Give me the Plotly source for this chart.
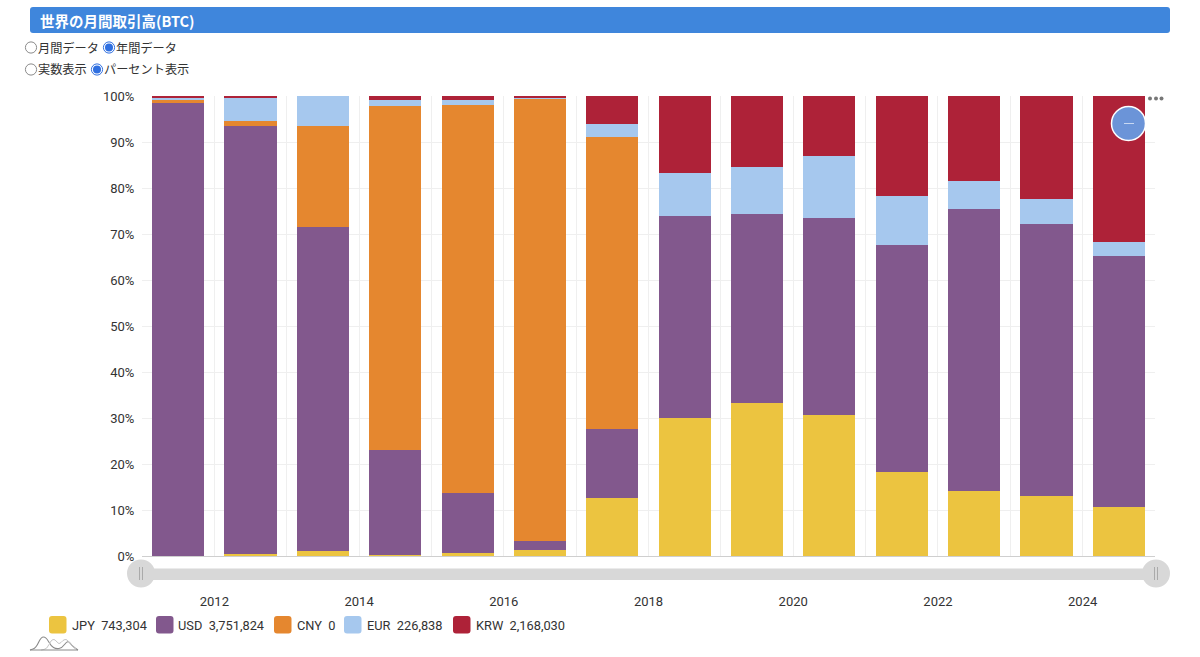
import plotly.graph_objects as go

years = list(range(2011, 2025))
tick_labels = {2012: "2012", 2014: "2014", 2016: "2016", 2018: "2018", 2020: "2020", 2022: "2022", 2024: "2024"}
series_names = ["JPY", "USD", "CNY", "EUR", "KRW"]
legend_values = ["743,304", "3,751,824", "0", "226,838", "2,168,030"]
series_colors = ["#ECC440", "#82588D", "#E5872F", "#A6C8EE", "#AE2238"]
jpy = [0.1, 0.5, 1.0, 0.2, 0.6, 1.4, 12.7, 30.0, 33.2, 30.7, 18.2, 14.2, 13.0, 10.7]
usd = [98.4, 93.0, 70.6, 22.9, 13.2, 1.8, 14.9, 44.0, 41.1, 42.8, 49.4, 61.3, 59.2, 54.5]
cny = [0.6, 1.0, 21.8, 74.7, 84.2, 96.2, 63.4, 0, 0, 0, 0, 0, 0, 0]
eur = [0.6, 5.2, 6.6, 1.4, 1.2, 0.2, 2.9, 9.2, 10.3, 13.5, 10.6, 6.0, 5.4, 3.1]
krw = [0.3, 0.3, 0, 0.8, 0.8, 0.4, 6.1, 16.8, 15.4, 13.0, 21.8, 18.5, 22.4, 31.7]
series_values = [jpy, usd, cny, eur, krw]
y_ticks = list(range(0, 101, 10))

W, H = 1200, 657
ML, MR, MT, MB = 142, 45, 96, 101
PW, PH = W - ML - MR, H - MT - MB
FONT = "Roboto, 'Noto Sans CJK JP', sans-serif"
CJK = "'Noto Sans CJK JP', Roboto, sans-serif"


def px(x):
    return (x - ML) / PW


def py(y):
    return 1 - (y - MT) / PH


def rrect(x0, y0, x1, y1, r, fill):
    p = (f"M {px(x0+r)} {py(y0)} L {px(x1-r)} {py(y0)} Q {px(x1)} {py(y0)} {px(x1)} {py(y0+r)} "
         f"L {px(x1)} {py(y1-r)} Q {px(x1)} {py(y1)} {px(x1-r)} {py(y1)} L {px(x0+r)} {py(y1)} "
         f"Q {px(x0)} {py(y1)} {px(x0)} {py(y1-r)} L {px(x0)} {py(y0+r)} Q {px(x0)} {py(y0)} {px(x0+r)} {py(y0)} Z")
    return dict(type="path", xref="paper", yref="paper", path=p, fillcolor=fill, line=dict(width=0), layer="above")


def circle(cx, cy, r, fill, line="rgba(0,0,0,0)", lw=0):
    return dict(type="circle", xref="paper", yref="paper", x0=px(cx - r), x1=px(cx + r), y0=py(cy + r), y1=py(cy - r),
                fillcolor=fill, line=dict(color=line, width=lw), layer="above")


def seg(x0, y0, x1, y1, color, lw=1):
    return dict(type="line", xref="paper", yref="paper", x0=px(x0), x1=px(x1), y0=py(y0), y1=py(y1),
                line=dict(color=color, width=lw), layer="above")


def curve(points, color, lw=1.2):
    p = f"M {px(points[0][0])} {py(points[0][1])}"
    for (a, b), (c, d) in zip(points[:-1], points[1:]):
        p += f" Q {px(a)} {py(b)} {px((a + c) / 2)} {py((b + d) / 2)}"
    p += f" L {px(points[-1][0])} {py(points[-1][1])}"
    return dict(type="path", xref="paper", yref="paper", path=p, line=dict(color=color, width=lw), layer="above")


def text(x, y, s, size=12.5, color="#333333", family=FONT, anchor="left"):
    return dict(xref="paper", yref="paper", x=px(x), y=py(y), text=s, showarrow=False, xanchor=anchor, yanchor="middle",
                font=dict(size=size, color=color, family=family), borderpad=0, borderwidth=0)


fig = go.Figure()
for name, vals, col in zip(series_names, series_values, series_colors):
    fig.add_trace(go.Bar(x=years, y=vals, name=name, marker=dict(color=col, line=dict(width=0)),
                         offset=0.14, width=0.72, showlegend=False))

shapes = []
annotations = []
# header
shapes.append(rrect(30, 7, 1170, 33, 3, "#3F86DC"))
annotations.append(text(40, 20, "<b>世界の月間取引高(BTC)</b>", size=14.5, color="white", family=CJK))
# radios
for cx, cy, on in [(31, 47.5, False), (109, 47.5, True), (31, 69.5, False), (97, 69.5, True)]:
    if on:
        shapes.append(circle(cx, cy, 5.6, "white", "#2F6FE0", 1))
        shapes.append(circle(cx, cy, 4, "#2F6FE0"))
    else:
        shapes.append(circle(cx, cy, 5.6, "white", "#8A8A8A", 1))
for x, y, s in [(38, 47.5, "月間データ"), (116, 47.5, "年間データ"), (38, 69.5, "実数表示"), (104, 69.5, "パーセント表示")]:
    annotations.append(text(x, y, s, size=12.2, family=CJK))
# slider
shapes.append(rrect(150, 568.5, 1148, 580, 1, "#D8D8D8"))
for cx in (141, 1156):
    shapes.append(circle(cx, 573.5, 14, "#D8D8D8"))
    shapes.append(seg(cx - 1.5, 567, cx - 1.5, 580, "#AAAAAA"))
    shapes.append(seg(cx + 1.5, 567, cx + 1.5, 580, "#AAAAAA"))
# zoom-out button and menu dots
shapes.append(circle(1128.5, 123.5, 17, "#6B94D8", "white", 1.5))
shapes.append(seg(1124, 123.5, 1134, 123.5, "#C8D8F2"))
for cx in (1150, 1156, 1161.5):
    shapes.append(circle(cx, 98.5, 2, "#777777"))
# legend
lx = [(49, 72), (156, 178), (274, 297), (344, 367), (453, 476)]
for (sx, tx), name, val, col in zip(lx, series_names, legend_values, series_colors):
    shapes.append(rrect(sx, 616, sx + 17.5, 633.5, 3, col))
    annotations.append(text(tx, 625, f"{name}&nbsp;&nbsp;{val}", size=12.8))
# logo
shapes.append(curve([(30, 650), (36, 648), (41, 637), (46, 637), (51, 646), (56, 649), (62, 648), (68, 640), (72, 646), (78, 650)], "#8A8A8A", 1.1))
shapes.append(curve([(41, 650), (47, 649), (51, 640), (55, 639), (59, 645), (63, 640), (67, 639), (71, 645), (76, 649)], "#C6C6C6", 1))
shapes.append(seg(30, 650, 78, 650, "#8A8A8A", 1))

fig.update_layout(
    barmode="stack", width=W, height=H, autosize=False,
    margin=dict(l=ML, r=MR, t=MT, b=MB, pad=0),
    paper_bgcolor="white", plot_bgcolor="white",
    font=dict(family=FONT, size=12.5, color="#333333"),
    shapes=shapes, annotations=annotations,
    xaxis=dict(range=[2011, 2025], tickmode="array", tickvals=years,
               ticktext=[tick_labels.get(y, "") for y in years],
               showgrid=True, gridcolor="#EFEFEF", gridwidth=1, zeroline=False,
               ticks="outside", ticklen=33, tickcolor="rgba(0,0,0,0)", showline=True, linecolor="#CFCFCF", linewidth=1,
               tickfont=dict(size=13, color="#333333")),
    yaxis=dict(range=[0, 100], tickmode="array", tickvals=y_ticks, ticktext=[f"{v}%" for v in y_ticks],
               showgrid=True, gridcolor="#EFEFEF", gridwidth=1, zeroline=False,
               ticks="outside", ticklen=4, tickcolor="rgba(0,0,0,0)", tickfont=dict(size=13, color="#333333")),
)
fig.write_html("out.html", config={"displayModeBar": False}, post_script="document.body.style.margin='0';")
